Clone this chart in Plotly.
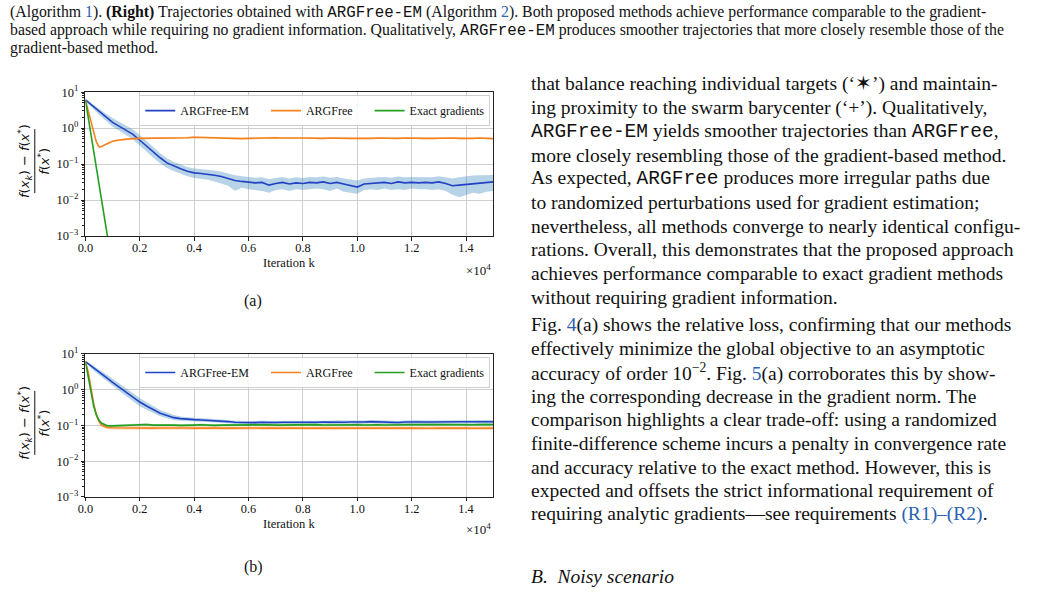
import plotly.graph_objects as go

# ---------------- data ----------------
K = [0, 100, 200, 300, 400, 500, 600, 800, 1000, 1250, 1500, 1750, 2000, 2250, 2500, 2750, 3000,
     3250, 3500, 3750, 4000, 4250, 4500, 4750, 5000, 5250, 5500, 5750, 6000, 6250, 6500, 6750,
     7000, 7250, 7500, 7750, 8000, 8250, 8500, 8750, 9000, 9250, 9500, 9750, 10000, 10250, 10500,
     10750, 11000, 11250, 11500, 11750, 12000, 12250, 12500, 12750, 13000, 13250, 13500, 13750,
     14000, 14250, 14500, 14750, 15000]

# (a) ARGFree-EM mean / band
A_EM = [6.1, 5.3, 4.5, 3.9, 3.3, 2.9, 2.5, 1.9, 1.45, 1.12, 0.88, 0.67, 0.46, 0.31, 0.21, 0.15, 0.108,
        0.088, 0.074, 0.063, 0.057, 0.055, 0.053, 0.049, 0.045, 0.039, 0.035, 0.033, 0.032, 0.030,
        0.031, 0.026, 0.029, 0.031, 0.028, 0.030, 0.029, 0.031, 0.030, 0.032, 0.029, 0.031, 0.028,
        0.025, 0.023, 0.028, 0.029, 0.030, 0.031, 0.029, 0.032, 0.030, 0.031, 0.030, 0.031, 0.030,
        0.032, 0.029, 0.025, 0.026, 0.027, 0.029, 0.030, 0.031, 0.032]
A_EM_LO = [5.6, 4.7, 3.9, 3.3, 2.75, 2.35, 2.0, 1.5, 1.1, 0.84, 0.64, 0.48, 0.33, 0.22, 0.15, 0.105,
           0.078, 0.064, 0.054, 0.046, 0.041, 0.039, 0.037, 0.033, 0.029, 0.025, 0.018, 0.022, 0.020,
           0.019, 0.018, 0.016, 0.019, 0.020, 0.018, 0.020, 0.019, 0.020, 0.021, 0.020, 0.018, 0.021,
           0.017, 0.016, 0.015, 0.019, 0.020, 0.019, 0.021, 0.019, 0.020, 0.019, 0.021, 0.020, 0.020,
           0.019, 0.020, 0.018, 0.014, 0.012, 0.014, 0.016, 0.015, 0.017, 0.018]
A_EM_HI = [6.6, 5.9, 5.1, 4.5, 3.9, 3.5, 3.1, 2.4, 1.9, 1.5, 1.2, 0.92, 0.64, 0.43, 0.29, 0.2, 0.145,
           0.115, 0.097, 0.083, 0.075, 0.072, 0.070, 0.066, 0.061, 0.054, 0.049, 0.046, 0.044, 0.042,
           0.043, 0.038, 0.041, 0.044, 0.040, 0.043, 0.041, 0.044, 0.043, 0.045, 0.042, 0.044, 0.040,
           0.037, 0.035, 0.040, 0.042, 0.043, 0.044, 0.042, 0.045, 0.043, 0.044, 0.043, 0.044, 0.043,
           0.046, 0.043, 0.040, 0.043, 0.046, 0.048, 0.049, 0.050, 0.050]
# (a) ARGFree
A_F = [6.0, 3.2, 1.7, 0.85, 0.42, 0.30, 0.31, 0.37, 0.43, 0.47, 0.50, 0.51, 0.52, 0.52, 0.53, 0.52,
       0.53, 0.52, 0.53, 0.54, 0.56, 0.55, 0.54, 0.53, 0.52, 0.53, 0.52, 0.51, 0.52, 0.53, 0.52, 0.53,
       0.54, 0.53, 0.52, 0.53, 0.53, 0.52, 0.53, 0.52, 0.53, 0.52, 0.51, 0.52, 0.52, 0.51, 0.52, 0.53,
       0.52, 0.51, 0.52, 0.53, 0.52, 0.53, 0.52, 0.52, 0.53, 0.52, 0.53, 0.52, 0.51, 0.52, 0.53, 0.52,
       0.51]
A_F_BAND = 1.06
# (a) Exact gradients
K_G = [0, 200, 400, 600, 800, 1000]
A_G = [6.1, 0.71, 0.083, 0.0098, 0.00114, 0.00013]

# (b) ARGFree-EM
B_EM = [6.1, 5.3, 4.6, 4.0, 3.5, 3.1, 2.7, 2.1, 1.6, 1.15, 0.85, 0.62, 0.45, 0.35, 0.28, 0.22, 0.19,
        0.165, 0.155, 0.148, 0.145, 0.142, 0.14, 0.138, 0.135, 0.128, 0.122, 0.12, 0.118, 0.12,
        0.122, 0.12, 0.121, 0.123, 0.122, 0.124, 0.122, 0.121, 0.123, 0.124, 0.122, 0.125, 0.123,
        0.124, 0.122, 0.125, 0.128, 0.126, 0.123, 0.122, 0.121, 0.124, 0.126, 0.127, 0.125, 0.124,
        0.126, 0.125, 0.124, 0.126, 0.127, 0.126, 0.125, 0.124, 0.126]
B_EM_BAND = [1.05, 1.1, 1.13, 1.16, 1.18, 1.2, 1.22, 1.25, 1.27, 1.28, 1.3, 1.3, 1.3, 1.28, 1.25,
             1.22, 1.2, 1.18, 1.15, 1.14, 1.13, 1.13, 1.12, 1.12, 1.12, 1.11, 1.11,
             1.10, 1.11, 1.10, 1.12, 1.11, 1.10, 1.11, 1.12, 1.10, 1.11,
             1.12, 1.11, 1.10, 1.11, 1.12, 1.11, 1.10, 1.12, 1.11, 1.10,
             1.11, 1.12, 1.11, 1.10, 1.11, 1.12, 1.11, 1.10, 1.11, 1.12,
             1.11, 1.10, 1.11, 1.12, 1.11, 1.10, 1.11, 1.12]
# (b) ARGFree
B_F = [6.1, 3.2, 1.2, 0.42, 0.2, 0.13, 0.1, 0.088, 0.086, 0.085, 0.086, 0.085, 0.086, 0.085, 0.084,
       0.085, 0.086, 0.085, 0.084, 0.085, 0.084, 0.085, 0.086, 0.085, 0.084, 0.085, 0.084, 0.083,
       0.084, 0.085, 0.084, 0.085, 0.084, 0.083, 0.084, 0.085, 0.084, 0.083, 0.084, 0.085, 0.084,
       0.083, 0.084, 0.085, 0.084, 0.083, 0.084, 0.085, 0.084, 0.083, 0.084, 0.085, 0.084, 0.083,
       0.084, 0.083, 0.084, 0.085, 0.084, 0.083, 0.084, 0.083, 0.084, 0.083, 0.084]
B_F_BAND = 1.13
# (b) Exact gradients
B_G = [6.1, 2.3, 0.8, 0.36, 0.2, 0.14, 0.115, 0.098, 0.097, 0.099, 0.1, 0.101, 0.103, 0.106, 0.102,
       0.103, 0.101, 0.102, 0.1, 0.103, 0.102, 0.104, 0.101, 0.1, 0.102, 0.103, 0.101, 0.105, 0.104,
       0.102, 0.103, 0.104, 0.102, 0.103, 0.105, 0.104, 0.103, 0.104, 0.105, 0.103, 0.104, 0.103,
       0.105, 0.106, 0.104, 0.103, 0.105, 0.104, 0.103, 0.104, 0.106, 0.107, 0.105, 0.104, 0.106,
       0.105, 0.104, 0.106, 0.107, 0.105, 0.103, 0.104, 0.105, 0.104, 0.105]
B_G_BAND = 1.08

SERIES_NAMES = ["ARGFree-EM", "ARGFree", "Exact gradients"]
X_TICKS = [0, 2000, 4000, 6000, 8000, 10000, 12000, 14000]
X_TICK_LABELS = ["0.0", "0.2", "0.4", "0.6", "0.8", "1.0", "1.2", "1.4"]
Y_TICKS = [1e-3, 1e-2, 1e-1, 1, 10]
Y_TICK_LABELS = ["10<sup>−3</sup>", "10<sup>−2</sup>", "10<sup>−1</sup>", "10<sup>0</sup>", "10<sup>1</sup>"]
Y_MINOR = [m * 10 ** e for e in (-3, -2, -1, 0) for m in range(2, 10)]

for arr in (A_EM, A_EM_LO, A_EM_HI, A_F, B_EM, B_EM_BAND, B_F, B_G):
    assert len(arr) == len(K), len(arr)

# ---------------- style ----------------
W, H = 1043, 592
# observed placement of the page in the photo: 8px offset, slight vertical squeeze
OX, OY, SY = 8, 8, 592 / 608
BLUE, ORANGE, GREEN = "#2242c4", "#f5821f", "#22a022"
BLUE_F, ORANGE_F, GREEN_F = "rgba(31,119,180,0.32)", "rgba(255,127,14,0.25)", "rgba(44,160,44,0.25)"
SERIF = "Liberation Serif"
TXT = "#111111"
LINKC = "#2a62b0"
PAD = "\u00a0" * 4  # legend spacing


def px(x):
    return (x - OX) / W


def py(y):
    return 1 - (y / SY - OY) / H


fig = go.Figure()


def band(x, lo, hi, color, xa, ya):
    fig.add_trace(go.Scatter(x=x, y=lo, mode="lines", line=dict(width=0), hoverinfo="skip",
                             showlegend=False, xaxis=xa, yaxis=ya))
    fig.add_trace(go.Scatter(x=x, y=hi, mode="lines", line=dict(width=0), fill="tonexty",
                             fillcolor=color, hoverinfo="skip", showlegend=False, xaxis=xa, yaxis=ya))


def line(x, y, color, name, xa, ya, leg):
    fig.add_trace(go.Scatter(x=x, y=y, mode="lines", line=dict(color=color, width=1.6), name=name,
                             xaxis=xa, yaxis=ya, legend=leg))


# panel (a)
band(K, A_EM_LO, A_EM_HI, BLUE_F, "x", "y")
band(K, [v / A_F_BAND for v in A_F], [v * A_F_BAND for v in A_F], ORANGE_F, "x", "y")
line(K, A_EM, BLUE, SERIES_NAMES[0] + PAD, "x", "y", "legend")
line(K, A_F, ORANGE, SERIES_NAMES[1] + PAD, "x", "y", "legend")
line(K_G, A_G, GREEN, SERIES_NAMES[2], "x", "y", "legend")

# panel (b)
band(K, [v / s for v, s in zip(B_EM, B_EM_BAND)], [v * s for v, s in zip(B_EM, B_EM_BAND)], BLUE_F, "x2", "y2")
band(K, [v / B_F_BAND for v in B_F], [v * B_F_BAND for v in B_F], ORANGE_F, "x2", "y2")
band(K, [v / B_G_BAND for v in B_G], [v * B_G_BAND for v in B_G], GREEN_F, "x2", "y2")
line(K, B_EM, BLUE, SERIES_NAMES[0] + PAD, "x2", "y2", "legend2")
line(K, B_F, ORANGE, SERIES_NAMES[1] + PAD, "x2", "y2", "legend2")
line(K, B_G, GREEN, SERIES_NAMES[2], "x2", "y2", "legend2")

X_DOM = [px(86), px(497)]
common_x = dict(range=[0, 15000], tickmode="array", tickvals=X_TICKS, ticktext=X_TICK_LABELS,
                ticks="outside", ticklen=3.5, tickwidth=1, tickcolor="#222", showline=True, mirror=True,
                linecolor="#222", linewidth=1, showgrid=True, gridcolor="#cfcfcf", gridwidth=1.2,
                zeroline=False, tickfont=dict(family=SERIF, size=12.3, color=TXT),
                ticklabelstandoff=-3)
common_y = dict(type="log", range=[-3, 1], tickmode="array", tickvals=Y_TICKS, ticktext=Y_TICK_LABELS,
                ticks="outside", ticklen=3.5, tickwidth=1, tickcolor="#222", showline=True, mirror=True,
                linecolor="#222", linewidth=1, showgrid=True, gridcolor="#cfcfcf", gridwidth=1.2,
                zeroline=False, tickfont=dict(family=SERIF, size=12.5, color=TXT),
                minor=dict(tickvals=Y_MINOR, ticks="outside", ticklen=2, tickcolor="#222", showgrid=False))

legend_common = dict(orientation="h", xanchor="right", yanchor="top", bgcolor="rgba(255,255,255,0.85)",
                     bordercolor="#d0d0d0", borderwidth=1, font=dict(family=SERIF, size=12, color=TXT),
                     itemwidth=30, tracegroupgap=0, traceorder="normal")

fig.update_layout(
    width=W, height=H, margin=dict(l=0, r=0, t=0, b=0), paper_bgcolor="white", plot_bgcolor="white",
    xaxis=dict(domain=X_DOM, anchor="y", **common_x),
    yaxis=dict(domain=[py(235), py(91)], anchor="x", **common_y),
    xaxis2=dict(domain=X_DOM, anchor="y2", **common_x),
    yaxis2=dict(domain=[py(496), py(353)], anchor="x2", **common_y),
    legend=dict(x=px(494), y=py(94), **legend_common),
    legend2=dict(x=px(494), y=py(356), **legend_common),
    showlegend=True,
)


def mono(s):
    return f'<span style="font-family:Liberation Mono">{s}</span>'


def link(s):
    return f'<span style="color:{LINKC}">{s}</span>'


annots = []


def text(x, y, s, size, xanchor="left", angle=0, family=SERIF, yanchor="middle"):
    annots.append(dict(x=px(x), y=py(y), xref="paper", yref="paper", text=s, showarrow=False,
                       xanchor=xanchor, yanchor=yanchor, textangle=angle,
                       font=dict(family=family, size=size, color=TXT)))


# caption at top
CAP = 15.8
cap_lines = [
    f"(Algorithm {link('1')}). <b>(Right)</b> Trajectories obtained with {mono('ARGFree-EM')} (Algorithm {link('2')}). "
    "Both proposed methods achieve performance comparable to the gradient-",
    f"based approach while requiring no gradient information. Qualitatively, {mono('ARGFree-EM')} produces smoother "
    "trajectories that more closely resemble those of the",
    "gradient-based method.",
]
for s, yy in zip(cap_lines, (11.5, 29, 46.5)):
    text(8, yy, s, CAP)

# body text (right column)
BODY = 19.5
body1 = [
    "that balance reaching individual targets (‘✶’) and maintain-",
    "ing proximity to the swarm barycenter (‘+’). Qualitatively,",
    f"{mono('ARGFree-EM')} yields smoother trajectories than {mono('ARGFree')},",
    "more closely resembling those of the gradient-based method.",
    f"As expected, {mono('ARGFree')} produces more irregular paths due",
    "to randomized perturbations used for gradient estimation;",
    "nevertheless, all methods converge to nearly identical configu-",
    "rations. Overall, this demonstrates that the proposed approach",
    "achieves performance comparable to exact gradient methods",
    "without requiring gradient information.",
]
for i, s in enumerate(body1):
    text(533, 83 + 23.7 * i, s, BODY)
body2 = [
    f"Fig. {link('4')}(a) shows the relative loss, confirming that our methods",
    "effectively minimize the global objective to an asymptotic",
    f"accuracy of order 10<sup>−2</sup>. Fig. {link('5')}(a) corroborates this by show-",
    "ing the corresponding decrease in the gradient norm. The",
    "comparison highlights a clear trade-off: using a randomized",
    "finite-difference scheme incurs a penalty in convergence rate",
    "and accuracy relative to the exact method. However, this is",
    "expected and offsets the strict informational requirement of",
    f"requiring analytic gradients—see requirements {link('(R1)–(R2)')}.",
]
for i, s in enumerate(body2):
    text(533, 324 + 23.7 * i, s, BODY)
text(533, 576, "<i>B.  Noisy scenario</i>", BODY)

# panel decorations
for (ytop, ycap, yxl, ymul, ylab) in ((91, 300, 262, 269, 160), (353, 566, 523, 528, 422)):
    text(291, yxl, "Iteration k", 12.5, xanchor="center")
    text(497, ymul, "×10<sup>4</sup>", 13, xanchor="right")
    text(255, ycap, "(a)" if ytop == 91 else "(b)", 16, xanchor="center")
    text(25, ylab, "<i>f</i>(<i>x</i><sub><i>k</i></sub>) − <i>f</i>(<i>x</i><sup>*</sup>)", 13,
         xanchor="center", angle=-90, family="DejaVu Sans")
    text(44, ylab, "<i>f</i>(<i>x</i><sup>*</sup>)", 13, xanchor="center", angle=-90, family="DejaVu Sans")

shapes = []
for ylab in (160, 422):
    shapes.append(dict(type="line", xref="paper", yref="paper", x0=px(35), x1=px(35),
                       y0=py(ylab + 32), y1=py(ylab - 32), line=dict(color=TXT, width=1)))

fig.update_layout(annotations=annots, shapes=shapes)
fig.write_html("out.html")
